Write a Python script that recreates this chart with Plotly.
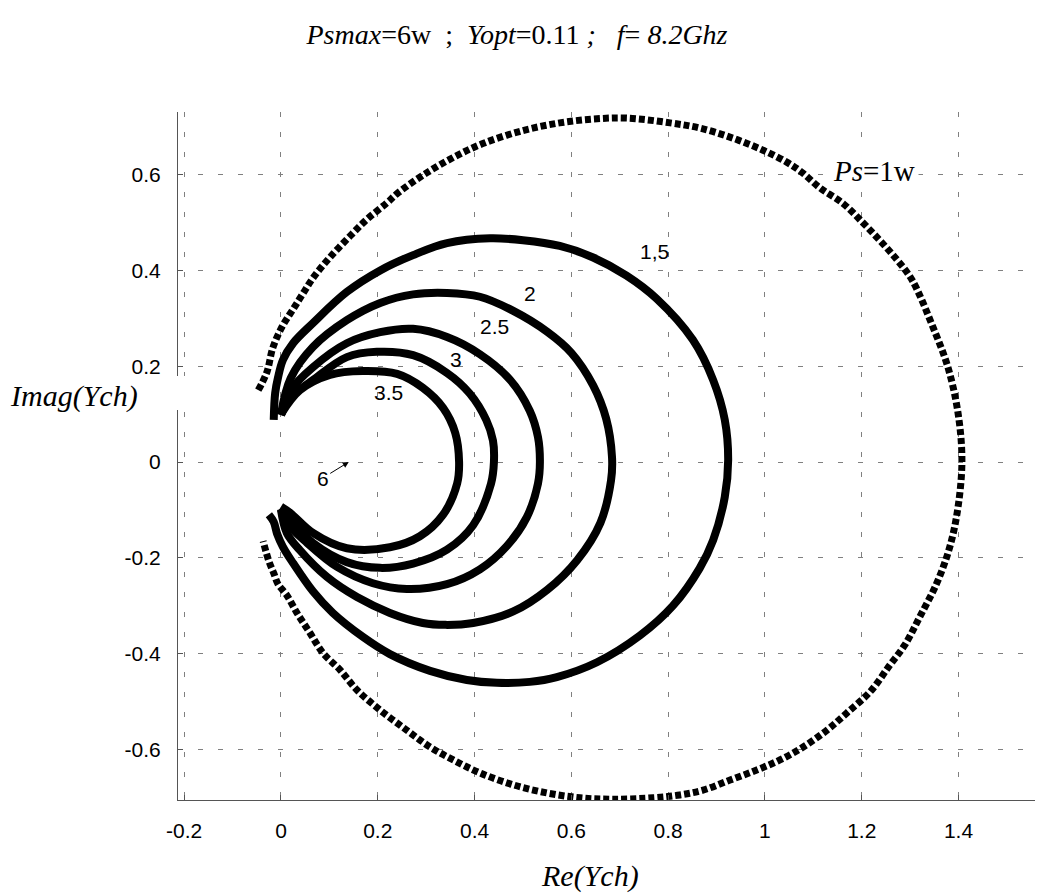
import plotly.graph_objects as go

# ---- data (Re, Im) ----
p1_re = [-0.047, -0.029, -0.017, 0.002, 0.025, 0.045, 0.066, 0.100, 0.143, 0.178, 0.219, 0.242,
         0.300, 0.360, 0.420, 0.500, 0.576, 0.645, 0.714, 0.804, 0.866, 0.934, 0.996, 1.045, 1.076,
         1.114, 1.161, 1.202, 1.237, 1.273, 1.304, 1.347, 1.378, 1.399, 1.407, 1.399, 1.382, 1.355,
         1.320, 1.289, 1.258, 1.217, 1.169, 1.128, 1.079, 1.031, 0.983, 0.928, 0.872, 0.824, 0.769,
         0.686, 0.618, 0.550, 0.480, 0.411, 0.356, 0.308, 0.260, 0.205, 0.157, 0.122, 0.087, 0.060,
         0.033, 0.012, -0.006, -0.015, -0.025, -0.037]
p1_im = [0.150, 0.188, 0.238, 0.282, 0.319, 0.351, 0.384, 0.426, 0.472, 0.507, 0.541, 0.562,
         0.603, 0.638, 0.666, 0.692, 0.708, 0.716, 0.718, 0.708, 0.697, 0.676, 0.651, 0.626, 0.605,
         0.572, 0.540, 0.500, 0.463, 0.422, 0.380, 0.282, 0.198, 0.102, 0.004, -0.094, -0.177, -0.253,
         -0.323, -0.382, -0.424, -0.480, -0.524, -0.560, -0.595, -0.622, -0.643, -0.664, -0.685, -0.695, -0.701,
         -0.704, -0.701, -0.691, -0.674, -0.649, -0.622, -0.595, -0.560, -0.518, -0.476, -0.434, -0.399, -0.357,
         -0.315, -0.278, -0.255, -0.232, -0.207, -0.165]

p15_re = [-0.015, -0.012, -0.006, 0.004, 0.025, 0.066, 0.136, 0.205, 0.273, 0.343, 0.432, 0.500, 0.576,
          0.645, 0.714, 0.776, 0.851, 0.893, 0.917, 0.924, 0.917, 0.893, 0.865, 0.810, 0.742, 0.653,
          0.570, 0.514, 0.446, 0.384, 0.308, 0.225, 0.169, 0.107, 0.066, 0.025, 0.004, -0.008, -0.015, -0.025]
p15_im = [0.088, 0.144, 0.177, 0.213, 0.248, 0.290, 0.355, 0.400, 0.432, 0.457, 0.467, 0.463, 0.451,
          0.427, 0.389, 0.341, 0.255, 0.171, 0.088, 0.004, -0.073, -0.163, -0.222, -0.300, -0.362, -0.418,
          -0.449, -0.459, -0.461, -0.455, -0.436, -0.401, -0.365, -0.315, -0.270, -0.211, -0.177, -0.150, -0.125, -0.110]

p2_re = [0.000, 0.020, 0.066, 0.136, 0.205, 0.273, 0.343, 0.411, 0.479, 0.550, 0.600, 0.645, 0.672, 0.684,
         0.682, 0.660, 0.612, 0.550, 0.480, 0.397, 0.340, 0.293, 0.225, 0.157, 0.095, 0.039, 0.012, 0.000]
p2_im = [0.100, 0.175, 0.240, 0.296, 0.332, 0.350, 0.353, 0.345, 0.316, 0.272, 0.228, 0.160, 0.090, 0.010,
         -0.038, -0.127, -0.205, -0.267, -0.312, -0.336, -0.340, -0.336, -0.315, -0.282, -0.240, -0.184, -0.148, -0.100]

p25_re = [0.000, 0.020, 0.066, 0.136, 0.205, 0.273, 0.343, 0.411, 0.473, 0.514, 0.531, 0.535, 0.531,
          0.508, 0.467, 0.411, 0.343, 0.260, 0.190, 0.116, 0.054, 0.012, 0.000]
p25_im = [0.098, 0.150, 0.198, 0.248, 0.271, 0.278, 0.261, 0.225, 0.172, 0.107, 0.052, 0.000, -0.045,
          -0.115, -0.175, -0.224, -0.255, -0.265, -0.253, -0.219, -0.169, -0.127, -0.098]

p3_re = [0.000, 0.020, 0.066, 0.136, 0.198, 0.273, 0.343, 0.390, 0.424, 0.438, 0.440, 0.434, 0.397,
         0.343, 0.273, 0.205, 0.136, 0.066, 0.019, 0.000]
p3_im = [0.098, 0.135, 0.171, 0.219, 0.230, 0.223, 0.186, 0.143, 0.088, 0.045, 0.000, -0.045, -0.132,
         -0.183, -0.212, -0.221, -0.209, -0.169, -0.121, -0.097]

p35_re = [0.000, 0.039, 0.101, 0.169, 0.240, 0.293, 0.335, 0.360, 0.368, 0.364, 0.335, 0.287, 0.225,
          0.136, 0.066, 0.019, 0.000]
p35_im = [0.100, 0.150, 0.182, 0.190, 0.184, 0.155, 0.113, 0.061, 0.000, -0.045, -0.110, -0.155, -0.178,
          -0.180, -0.148, -0.106, -0.093]

curve_labels = ["1,5", "2", "2.5", "3", "3.5"]
label_re = [0.772, 0.514, 0.442, 0.362, 0.222]
label_im = [0.440, 0.352, 0.283, 0.214, 0.146]

x_ticks = [-0.2, 0, 0.2, 0.4, 0.6, 0.8, 1, 1.2, 1.4]
x_ticktext = ["-0.2", "0", "0.2", "0.4", "0.6", "0.8", "1", "1.2", "1.4"]
y_ticks = [-0.6, -0.4, -0.2, 0, 0.2, 0.4, 0.6]
y_ticktext = ["-0.6", "-0.4", "-0.2", "0", "0.2", "0.4", "0.6"]

# ---- figure ----
SANS = "Liberation Sans, Arial, sans-serif"
SERIF = "Liberation Serif, Times New Roman, serif"

# plot area in pixels: left 178, right 1035, top 112, bottom 800
L, R, T, B = 178, 1035, 112, 800
def px(xp):
    return (xp - L) / (R - L)
def py(yp):
    return (B - yp) / (B - T)

fig = go.Figure()

fig.add_trace(go.Scatter(x=p1_re, y=p1_im, mode="lines",
                         line=dict(color="black", width=7, dash="6px,3px", shape="spline", smoothing=1.0),
                         hoverinfo="skip", showlegend=False))
for xs, ys in [(p15_re, p15_im), (p2_re, p2_im), (p25_re, p25_im), (p3_re, p3_im), (p35_re, p35_im)]:
    fig.add_trace(go.Scatter(x=xs, y=ys, mode="lines",
                             line=dict(color="black", width=8, shape="spline", smoothing=1.0),
                             hoverinfo="skip", showlegend=False))

annotations = []
for t, xv, yv in zip(curve_labels, label_re, label_im):
    annotations.append(dict(x=xv, y=yv, xref="x", yref="y", text=t, showarrow=False,
                            font=dict(family=SANS, size=21, color="black")))
annotations.append(dict(x=0.14, y=0.0, xref="x", yref="y", text="6", showarrow=True,
                        ax=-26, ay=16, arrowhead=2, arrowsize=1.2, arrowwidth=1, arrowcolor="black",
                        font=dict(family=SANS, size=21, color="black")))
annotations.append(dict(x=px(874), y=py(171), xref="paper", yref="paper",
                        text="<i>Ps</i>=1w", showarrow=False, bgcolor="white", borderpad=3,
                        xanchor="center", yanchor="middle",
                        font=dict(family=SERIF, size=29, color="black")))
annotations.append(dict(x=px(590), y=py(876), xref="paper", yref="paper", text="<i>Re(Ych)</i>",
                        showarrow=False, font=dict(family=SERIF, size=30, color="black"),
                        xanchor="center", yanchor="middle"))
annotations.append(dict(x=px(8), y=py(396), xref="paper", yref="paper", text="<i>Imag(Ych)</i>",
                        showarrow=False, font=dict(family=SERIF, size=30, color="black"),
                        xanchor="left", yanchor="middle"))

fig.update_layout(
    width=1039, height=894,
    margin=dict(l=L, r=1039 - R, t=T, b=894 - B),
    paper_bgcolor="white", plot_bgcolor="white",
    title=dict(text="<i>Psmax</i>=6w&nbsp;&nbsp;;&nbsp;&nbsp;<i>Yopt</i>=0.11&nbsp;<i>;&nbsp;&nbsp;&nbsp;f</i>=&nbsp;<i>8.2Ghz</i>",
               x=517 / 1039, y=1 - 34 / 894, xanchor="center", yanchor="middle",
               font=dict(family=SERIF, size=28, color="black")),
    annotations=annotations,
)

axis_common = dict(showgrid=True, gridcolor="#808080", gridwidth=1, griddash="5px,15px",
                   zeroline=False, showline=True, linecolor="#555555", linewidth=1,
                   ticks="inside", ticklen=5, tickcolor="#555555",
                   tickfont=dict(family=SANS, size=21, color="black"), ticklabelstandoff=12)
fig.update_xaxes(range=[-0.2128, 1.558], tickvals=x_ticks, ticktext=x_ticktext, **axis_common)
fig.update_yaxes(range=[-0.7056, 0.7307], tickvals=y_ticks, ticktext=y_ticktext, **axis_common)

# gap in the left axis line beside the y label
fig.add_shape(type="rect", xref="paper", yref="paper", x0=px(170), x1=px(186),
              y0=py(410), y1=py(376), fillcolor="white", line=dict(width=0), layer="above")

fig.write_html("out.html")
